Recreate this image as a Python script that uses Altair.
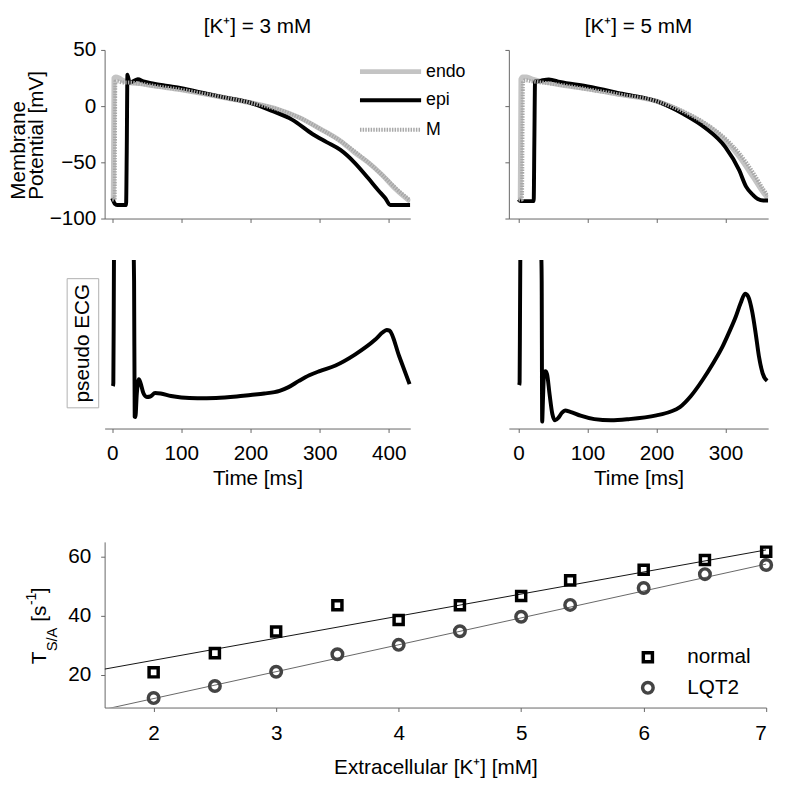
import altair as alt
import pandas as pd

FONT = "Liberation Sans, Arial, Helvetica, sans-serif"

# ---------------- Action potentials, [K+] = 3 mM ----------------
endo3_t = [0, 1.5, 2.5, 5, 10, 15, 25, 40, 60, 100, 150, 200, 240, 270, 300, 330, 350, 370, 390, 410, 431]
endo3_v = [-83, -83, 25, 26, 25, 23, 21, 20, 18, 14.5, 9, 3, -3, -10, -20, -31, -41, -50, -61, -74, -85]
epi3_t = [0, 4, 8, 20, 21, 22, 25, 30, 37, 45, 60, 80, 100, 130, 160, 200, 230, 260, 290, 310, 330, 350, 370, 385, 395, 402, 431]
epi3_v = [-82, -87, -88, -88, -40, 28, 21, 22, 24, 22, 20, 18, 16, 12, 8, 3, -4, -12, -25, -32, -39, -50, -64, -75, -82, -88, -88]
m3_t = [0, 3.5, 4.5, 8, 15, 25, 40, 60, 100, 150, 200, 240, 270, 300, 330, 350, 370, 390, 410, 431]
m3_v = [-83, -83, 22, 22, 21, 21, 20, 18, 14.5, 9, 3, -3, -10, -20, -31, -40, -50, -61, -73, -84]

# ---------------- Action potentials, [K+] = 5 mM ----------------
endo5_t = [0, 2.5, 3.5, 6, 12, 20, 34, 60, 100, 150, 200, 240, 270, 300, 320, 340, 355, 362]
endo5_v = [-83, -83, 24, 26, 26, 24, 22, 19, 15.5, 10, 4.4, -5.8, -16, -30.7, -45, -63, -77, -82]
epi5_t = [0, 3, 10, 22, 23, 24, 28, 35, 44, 60, 100, 150, 200, 240, 270, 300, 320, 330, 340, 347, 355, 362]
epi5_v = [-83, -84.5, -84.5, -84.5, -30, 22, 22, 23, 23.7, 21.5, 17.5, 11, 4.4, -7.3, -19, -36.5, -57, -71.6, -79, -82.7, -84, -84]
m5_t = [0, 5, 6.5, 10, 20, 34, 60, 100, 150, 200, 240, 270, 300, 320, 340, 355, 362]
m5_v = [-83, -83, 22, 23, 22, 21, 19, 15, 10, 4.4, -5, -15, -29, -42, -59, -74, -80]

# ---------------- pseudo ECG (arbitrary units; 171 = top of panel) ----------------
ecg3_seg = [0, 0, 0, 0] + [1] * 32
ecg3_t = [1.0, 1.6, 2.2, 2.5, 31.2, 31.6, 32.5, 33.5, 35.5, 38.5, 41, 45, 50, 55, 62, 70, 85, 100, 123, 150, 180,
          200, 220, 242, 255, 270, 285, 300, 323, 351, 380, 392, 397, 401, 415, 430]
ecg3_v = [43, 46, 120, 171, 171, 150, 12, 11.7, 35, 50, 46, 36, 32, 32.5, 36, 35.5, 33, 31.5, 30.7, 31, 32.5,
          34, 35.5, 38.3, 42, 48.3, 54, 58.3, 64, 75, 90, 98, 100, 99.3, 73.3, 45]
ecg5_seg = [0, 0, 0, 0] + [1] * 35
ecg5_t = [1.0, 1.6, 2.2, 2.6, 33.2, 33.6, 34.3, 35.5, 37, 39, 41.4, 45, 49, 53, 58, 63, 67.6, 75, 90, 110, 134,
          160, 200, 220, 234, 250, 267.6, 282, 296, 305, 315, 322, 328.6, 333, 339, 344, 348.6, 354, 360.5]
ecg5_v = [44, 47, 120, 171, 171, 150, 7, 30, 55, 58, 55, 35, 15, 8.3, 11, 16, 18.3, 17, 13, 9.5, 8.3,
          9.5, 13.3, 17, 21.7, 33, 50, 66, 83.3, 97, 113.3, 127, 136.7, 134, 118, 96, 73.3, 56, 48.3]

# ---------------- T_S/A vs extracellular K+ ----------------
k_vals = [2, 2.5, 3, 3.5, 4, 4.5, 5, 5.4, 6, 6.5, 7]
normal_vals = [20.9, 27.4, 34.7, 43.6, 38.6, 43.6, 46.7, 52.0, 55.6, 58.9, 61.7]
lqt2_vals = [12.2, 16.3, 21.1, 27.0, 30.2, 34.8, 39.7, 43.7, 49.4, 54.1, 57.2]
fit_k = [1.6, 7.0]
normal_fit = [22.0, 62.3]
lqt2_fit = [8.4, 57.5]

ap_labels = ["endo", "epi", "M"]
sa_labels = ["normal", "LQT2"]
titles = ["[K\u207a] = 3 mM", "[K\u207a] = 5 mM"]

ONE = pd.DataFrame({"k": [0]})
AXC = "#666"


def txt(s, x, y, size=21, angle=0, align="left", baseline="alphabetic", color="#000000"):
    return alt.Chart(pd.DataFrame({"s": [s]})).mark_text(
        font=FONT, fontSize=size, angle=angle, align=align, baseline=baseline, color=color
    ).encode(x=alt.value(x), y=alt.value(y), text="s:N")


def anchor():
    # invisible layout anchor so every row has the same left extent
    return alt.Chart(ONE).mark_rule(opacity=0).encode(x=alt.value(-98), y=alt.value(60), y2=alt.value(70))


def ap_panel(curves, domain, width, title, show_labels, legend):
    xs = alt.Scale(domain=domain, nice=False, zero=False)
    ys = alt.Scale(domain=[-100, 50], nice=False)
    styles = {
        "endo": dict(color="#c4c4c4", strokeWidth=5),
        "epi": dict(color="#000000", strokeWidth=4),
        "M": dict(color="#a8a8a8", strokeWidth=4, strokeDash=[1.5, 1.2]),
    }
    layers = []
    for name in ["endo", "epi", "M"]:
        t, v = curves[name]
        df = pd.DataFrame({"t": t, "v": v})
        layers.append(
            alt.Chart(df).mark_line(clip=True, strokeJoin="round", interpolate="monotone", **styles[name]).encode(
                x=alt.X("t:Q", scale=xs, axis=alt.Axis(values=[0, 100, 200, 300, 400], labels=False, title=None,
                                                       tickSize=4, domainColor=AXC, tickColor=AXC)),
                y=alt.Y("v:Q", scale=ys, axis=alt.Axis(values=[-100, -50, 0, 50], labels=show_labels, title=None,
                                                       tickSize=4, labelPadding=5, labelFontSize=21,
                                                       labelFont=FONT, domainColor=AXC, tickColor=AXC)),
                order=alt.Order("t:Q"),
            )
        )
    if legend:
        ys_leg = [22, 51, 81]
        for i, name in enumerate(ap_labels):
            st = styles[name]
            rule_kw = dict(color=st["color"], strokeWidth=st["strokeWidth"])
            if "strokeDash" in st:
                rule_kw["strokeDash"] = st["strokeDash"]
            layers.append(
                alt.Chart(pd.DataFrame({"s": [name]})).mark_rule(**rule_kw).encode(
                    x=alt.value(259), x2=alt.value(321), y=alt.value(ys_leg[i])
                )
            )
            layers.append(txt(name, 326, ys_leg[i], size=18, baseline="middle"))
    if show_labels:
        layers.append(txt("Membrane", -81, 152, angle=270))
        layers.append(txt("Potential [mV]", -62, 152, angle=270))
        layers.append(anchor())
    layers.append(txt(title, width / 2, -17, align="center"))
    return alt.layer(*layers).properties(width=width, height=171)


def ecg_panel(seg, t, v, domain, width, ticks, ylabel):
    xs = alt.Scale(domain=domain, nice=False, zero=False)
    df = pd.DataFrame({"seg": seg, "t": t, "e": v})
    line = alt.Chart(df).mark_line(color="black", strokeWidth=4, strokeJoin="round", interpolate="monotone").encode(
        x=alt.X("t:Q", scale=xs, axis=alt.Axis(values=ticks, title="Time [ms]", tickSize=4, labelPadding=10,
                                               labelFontSize=21, labelFont=FONT, titleFontSize=21, titleFont=FONT,
                                               titleFontWeight="normal", titlePadding=5,
                                               domainColor=AXC, tickColor=AXC)),
        y=alt.Y("e:Q", scale=alt.Scale(domain=[0, 171], nice=False), axis=None),
        detail="seg:N",
        order=alt.Order("t:Q"),
    )
    layers = [line]
    if ylabel:
        layers.append(
            alt.Chart(ONE).mark_rect(fill="white", fillOpacity=0, stroke="#b0b0b0", strokeWidth=1).encode(
                x=alt.value(-38), x2=alt.value(-6), y=alt.value(19), y2=alt.value(150)
            )
        )
        layers.append(txt("pseudo ECG", -22, 84.5, angle=270, align="center", baseline="middle"))
        layers.append(anchor())
    return alt.layer(*layers).properties(width=width, height=171)


top_l = ap_panel({"endo": (endo3_t, endo3_v), "epi": (epi3_t, epi3_v), "M": (m3_t, m3_v)},
                 [-11, 431], 310, titles[0], True, True)
top_r = ap_panel({"endo": (endo5_t, endo5_v), "epi": (epi5_t, epi5_v), "M": (m5_t, m5_v)},
                 [-14, 362], 263, titles[1], False, False)
ecg_l = ecg_panel(ecg3_seg, ecg3_t, ecg3_v, [-11, 431], 310, [0, 100, 200, 300, 400], True)
ecg_r = ecg_panel(ecg5_seg, ecg5_t, ecg5_v, [-14, 362], 263, [0, 100, 200, 300], False)

# bottom panel
kx = alt.Scale(domain=[1.6, 7], nice=False, zero=False)
ty = alt.Scale(domain=[9, 65], nice=False, zero=False)
xax = alt.Axis(values=[2, 3, 4, 5, 6, 7], format="d", title="Extracellular [K\u207a] [mM]", tickSize=4,
               labelPadding=11, labelFontSize=21, labelFont=FONT, titleFontSize=21, titleFont=FONT,
               titleFontWeight="normal", titlePadding=14, domainColor=AXC, tickColor=AXC)
yax = alt.Axis(values=[20, 40, 60], title=None, tickSize=4, labelPadding=10, labelFontSize=21, labelFont=FONT,
               domainColor=AXC, tickColor=AXC)
fit_df = pd.DataFrame({"k": fit_k, "n": normal_fit, "l": lqt2_fit})
pts_df = pd.DataFrame({"k": k_vals, "n": normal_vals, "l": lqt2_vals})
fit_n = alt.Chart(fit_df).mark_line(clip=True, color="#111", strokeWidth=1).encode(
    x=alt.X("k:Q", scale=kx, axis=xax), y=alt.Y("n:Q", scale=ty, axis=yax))
fit_l = alt.Chart(fit_df).mark_line(clip=True, color="#666", strokeWidth=1).encode(
    x=alt.X("k:Q", scale=kx), y=alt.Y("l:Q", scale=ty))
pts_n = alt.Chart(pts_df).mark_point(shape="square", filled=False, size=85, strokeWidth=3.5, color="black",
                                     opacity=1).encode(x=alt.X("k:Q", scale=kx), y=alt.Y("n:Q", scale=ty))
pts_l = alt.Chart(pts_df).mark_point(shape="circle", filled=False, size=115, strokeWidth=3.5, color="#444",
                                     opacity=1).encode(x=alt.X("k:Q", scale=kx), y=alt.Y("l:Q", scale=ty))
leg_n = alt.Chart(ONE).mark_point(shape="square", filled=False, size=85, strokeWidth=3.5, color="black",
                                  opacity=1).encode(x=alt.value(551), y=alt.value(117))
leg_l = alt.Chart(ONE).mark_point(shape="circle", filled=False, size=115, strokeWidth=3.5, color="#444",
                                  opacity=1).encode(x=alt.value(551), y=alt.value(148))
bottom = alt.layer(
    fit_n, fit_l, pts_n, pts_l, leg_n, leg_l,
    txt(sa_labels[0], 591, 117, baseline="middle"),
    txt(sa_labels[1], 591, 148, baseline="middle"),
    txt("T", -59, 124, angle=270),
    txt("S/A", -48, 111, size=15, angle=270),
    txt("[s", -59, 81, angle=270),
    txt("-1", -70, 64, size=14, angle=270),
    txt("]", -59, 52, angle=270),
    anchor(),
).properties(width=671, height=168)

row1 = alt.hconcat(top_l, top_r, spacing=100, bounds="flush")
row2 = alt.hconcat(ecg_l, ecg_r, spacing=100, bounds="flush")
upper = alt.vconcat(row1, row2, spacing=30)
chart = alt.vconcat(upper, bottom, spacing=52).properties(
    padding={"left": 0, "top": 3, "right": 0, "bottom": 0}
).configure_view(stroke=None).configure_axis(grid=False)

chart.save("out.html", embed_options={"renderer": "svg", "actions": False})
